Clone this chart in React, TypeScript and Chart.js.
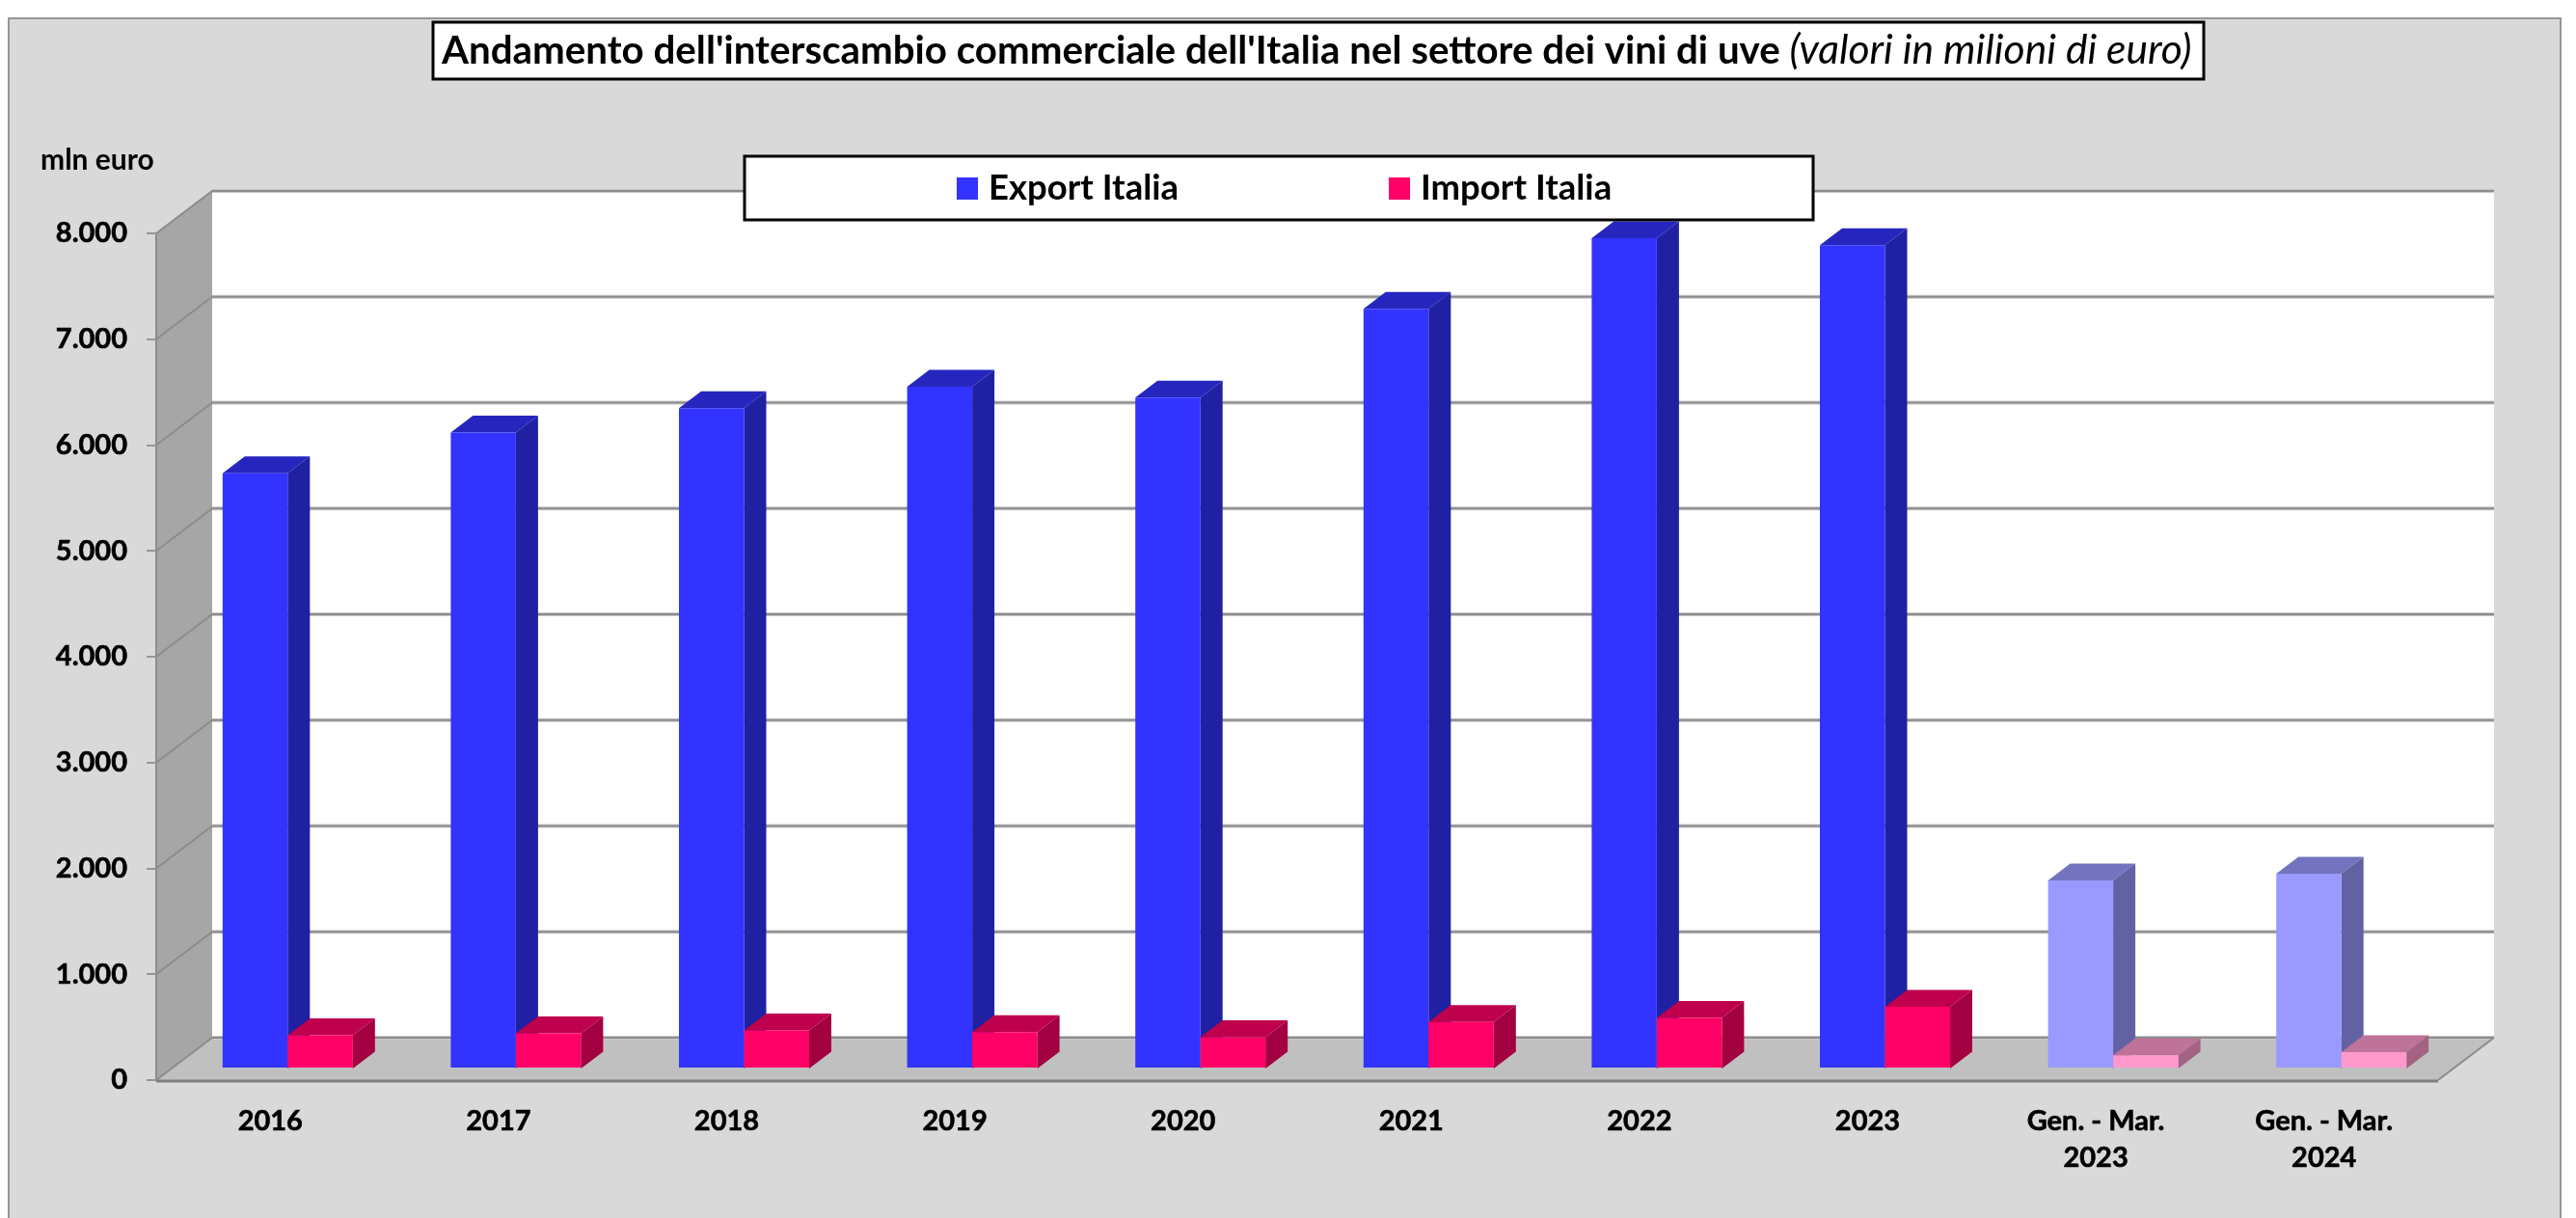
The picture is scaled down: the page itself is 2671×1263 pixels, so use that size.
import React, { useEffect, useRef } from "react";
import { Chart, registerables } from "chart.js";

Chart.register(...registerables);

const categories: (string | string[])[] = ["2016", "2017", "2018", "2019", "2020", "2021", "2022", "2023", ["Gen. - Mar.", "2023"], ["Gen. - Mar.", "2024"]];
const exportValues = [5625, 6010, 6239, 6442, 6339, 7177, 7844, 7778, 1776, 1840];
const importValues = [315, 332, 360, 345, 295, 440, 478, 584, 125, 155];
const yTicks = [0, 1000, 2000, 3000, 4000, 5000, 6000, 7000, 8000];
const titleBold = "Andamento dell'interscambio commerciale dell'Italia nel settore dei vini di uve ";
const titleItalic = "(valori in milioni di euro)";
const unitLabel = "mln euro";

const FONT = "Lato";
const exportColors = ["#3333FF", "#3333FF", "#3333FF", "#3333FF", "#3333FF", "#3333FF", "#3333FF", "#3333FF", "#9999FF", "#9999FF"];
const importColors = ["#FF0066", "#FF0066", "#FF0066", "#FF0066", "#FF0066", "#FF0066", "#FF0066", "#FF0066", "#FF99CC", "#FF99CC"];
const shade: Record<string, [string, string]> = {
  "#3333FF": ["#2626BF", "#2020A3"],
  "#FF0066": ["#BF004C", "#A30041"],
  "#9999FF": ["#7373BF", "#6262A3"],
  "#FF99CC": ["#BF7399", "#A36283"],
};

const WALL_DX = 58, WALL_DY = 44;
const BAR_SHIFT_X = 18, BAR_SHIFT_Y = 12;
const BAR_DX = 23, BAR_DY = 17.5;
const PANEL_LEFT = 9, PANEL_TOP = 19, PANEL_RIGHT = 2655;

function drawFaces(chart: any, index: number) {
  const { ctx, scales } = chart;
  const meta = chart.getDatasetMeta(index);
  meta.data.forEach((bar: any, i: number) => {
    const color = chart.data.datasets[index].backgroundColor[i];
    const [topC, sideC] = shade[color];
    const half = bar.width / 2;
    const l = bar.x - half, r = bar.x + half;
    const t = bar.y, b = scales.y.getPixelForValue(0);
    ctx.fillStyle = topC;
    ctx.beginPath();
    ctx.moveTo(l, t);
    ctx.lineTo(l + BAR_DX, t - BAR_DY);
    ctx.lineTo(r + BAR_DX, t - BAR_DY);
    ctx.lineTo(r, t);
    ctx.closePath();
    ctx.fill();
    ctx.fillStyle = sideC;
    ctx.beginPath();
    ctx.moveTo(r, t);
    ctx.lineTo(r + BAR_DX, t - BAR_DY);
    ctx.lineTo(r + BAR_DX, b - BAR_DY);
    ctx.lineTo(r, b);
    ctx.closePath();
    ctx.fill();
  });
}

const scene = {
  id: "scene",
  beforeDraw(chart: any) {
    const { ctx, width, height, chartArea: a, scales } = chart;
    const y = scales.y;
    ctx.save();
    ctx.fillStyle = "#FFFFFF";
    ctx.fillRect(0, 0, width, height);
    ctx.fillStyle = "#D9D9D9";
    ctx.fillRect(PANEL_LEFT, PANEL_TOP, PANEL_RIGHT - PANEL_LEFT, height - PANEL_TOP);
    ctx.strokeStyle = "#969696";
    ctx.lineWidth = 2;
    ctx.beginPath();
    ctx.moveTo(PANEL_LEFT, height);
    ctx.lineTo(PANEL_LEFT, PANEL_TOP);
    ctx.lineTo(PANEL_RIGHT, PANEL_TOP);
    ctx.lineTo(PANEL_RIGHT, height);
    ctx.stroke();

    // back wall
    ctx.fillStyle = "#FFFFFF";
    ctx.fillRect(a.left + WALL_DX, a.top - WALL_DY, a.width, a.height);
    // left wall
    ctx.fillStyle = "#A6A6A6";
    ctx.beginPath();
    ctx.moveTo(a.left, a.top);
    ctx.lineTo(a.left + WALL_DX, a.top - WALL_DY);
    ctx.lineTo(a.left + WALL_DX, a.bottom - WALL_DY);
    ctx.lineTo(a.left, a.bottom);
    ctx.closePath();
    ctx.fill();
    // floor
    ctx.fillStyle = "#C0C0C0";
    ctx.beginPath();
    ctx.moveTo(a.left, a.bottom);
    ctx.lineTo(a.left + WALL_DX, a.bottom - WALL_DY);
    ctx.lineTo(a.right + WALL_DX, a.bottom - WALL_DY);
    ctx.lineTo(a.right, a.bottom);
    ctx.closePath();
    ctx.fill();

    // gridlines
    for (const v of yTicks) {
      const py = y.getPixelForValue(v);
      ctx.strokeStyle = "#C8C8C8";
      ctx.lineWidth = 4;
      ctx.beginPath();
      ctx.moveTo(a.left + WALL_DX, py - WALL_DY);
      ctx.lineTo(a.right + WALL_DX, py - WALL_DY);
      ctx.stroke();
      ctx.strokeStyle = "#8C8C8C";
      ctx.lineWidth = 2;
      ctx.beginPath();
      ctx.moveTo(a.left, py);
      ctx.lineTo(a.left + WALL_DX, py - WALL_DY);
      ctx.lineTo(a.right + WALL_DX, py - WALL_DY);
      ctx.stroke();
    }
    // outlines
    ctx.strokeStyle = "#8C8C8C";
    ctx.lineWidth = 2;
    ctx.beginPath();
    ctx.moveTo(a.left, a.top);
    ctx.lineTo(a.left, a.bottom);
    ctx.stroke();
    ctx.beginPath();
    ctx.moveTo(a.right, a.bottom);
    ctx.lineTo(a.right + WALL_DX, a.bottom - WALL_DY);
    ctx.stroke();
    ctx.lineWidth = 3;
    ctx.strokeStyle = "#808080";
    ctx.beginPath();
    ctx.moveTo(a.left, a.bottom + 1);
    ctx.lineTo(a.right, a.bottom + 1);
    ctx.stroke();
    ctx.restore();
  },
  // Import is painted right after Export, so its box sits in front of the Export side face.
  beforeDatasetDraw(chart: any, args: any) {
    if (args.index === 1) return false;
    chart.ctx.save();
    chart.ctx.translate(BAR_SHIFT_X, -BAR_SHIFT_Y);
    drawFaces(chart, 0);
    return true;
  },
  afterDatasetDraw(chart: any, args: any) {
    if (args.index !== 0) return;
    const { ctx } = chart;
    drawFaces(chart, 1);
    chart.getDatasetMeta(1).controller.draw();
    ctx.restore();
  },
  afterDatasetsDraw(chart: any) {
    const { ctx } = chart;
    ctx.save();
    ctx.strokeStyle = "#000000";
    ctx.fillStyle = "#FFFFFF";

    // legend box, over the bars
    ctx.lineWidth = 3;
    ctx.fillRect(772, 162, 1108, 66);
    ctx.strokeRect(772, 162, 1108, 66);
    const legendSpots = [992, 1440];
    chart.data.datasets.forEach((ds: any, i: number) => {
      ctx.fillStyle = ds.backgroundColor[0];
      ctx.fillRect(legendSpots[i], 184, 22, 23);
      ctx.fillStyle = "#000000";
      ctx.font = `bold 36.5px ${FONT}`;
      ctx.textBaseline = "alphabetic";
      ctx.textAlign = "left";
      ctx.fillText(ds.label, legendSpots[i] + 33, 207);
    });

    // title box
    ctx.fillStyle = "#FFFFFF";
    ctx.fillRect(449, 23, 1836, 59);
    ctx.strokeRect(449, 23, 1836, 59);
    ctx.fillStyle = "#000000";
    ctx.textBaseline = "alphabetic";
    ctx.textAlign = "left";
    ctx.font = `bold 40.3px ${FONT}`;
    ctx.fillText(titleBold, 458, 66);
    const w = ctx.measureText(titleBold).width;
    ctx.font = `italic 42.5px ${FONT}`;
    ctx.fillText(titleItalic, 458 + w, 66);

    // unit
    ctx.font = `bold 30px ${FONT}`;
    ctx.fillText(unitLabel, 42, 176);
    ctx.restore();
  },
};

export default function App() {
  const ref = useRef<HTMLCanvasElement>(null);
  useEffect(() => {
    document.body.style.margin = "0";
    const chart = new Chart(ref.current!, {
      type: "bar",
      data: {
        labels: categories as any,
        datasets: [
          { label: "Export Italia", data: exportValues, backgroundColor: exportColors, categoryPercentage: 0.5706, barPercentage: 1 },
          { label: "Import Italia", data: importValues, backgroundColor: importColors, categoryPercentage: 0.5706, barPercentage: 1 },
        ],
      },
      options: {
        animation: false,
        responsive: false,
        layout: { padding: { left: 0, top: 242, right: 143, bottom: 0 } },
        plugins: {
          title: { display: false },
          tooltip: { enabled: false },
          legend: { display: false },
        },
        scales: {
          x: {
            type: "category",
            afterFit(s: any) { s.height = 143; },
            grid: { display: false },
            border: { display: false },
            ticks: {
              color: "#000000",
              font: { family: FONT, weight: "bold", size: 29, lineHeight: 1.33 },
              textStrokeColor: "#000000",
              textStrokeWidth: 0.6,
              maxRotation: 0,
              minRotation: 0,
              autoSkip: false,
              padding: 15,
            },
          },
          y: {
            min: 0,
            max: 8000,
            afterFit(s: any) { s.width = 162; },
            afterBuildTicks(s: any) { s.ticks = yTicks.map((value) => ({ value })); },
            border: { display: false },
            grid: { drawOnChartArea: false, drawTicks: true, tickLength: 10, color: "#969696", lineWidth: 2 },
            ticks: {
              color: "#000000",
              font: { family: FONT, weight: "bold", size: 29 },
              textStrokeColor: "#000000",
              textStrokeWidth: 0.6,
              padding: 20,
              callback: (v: any) => Number(v).toLocaleString("de-DE"),
            },
          },
        },
      },
      plugins: [scene],
    });
    return () => chart.destroy();
  }, []);
  return <canvas ref={ref} width={2671} height={1263} style={{ display: "block" }} />;
}
